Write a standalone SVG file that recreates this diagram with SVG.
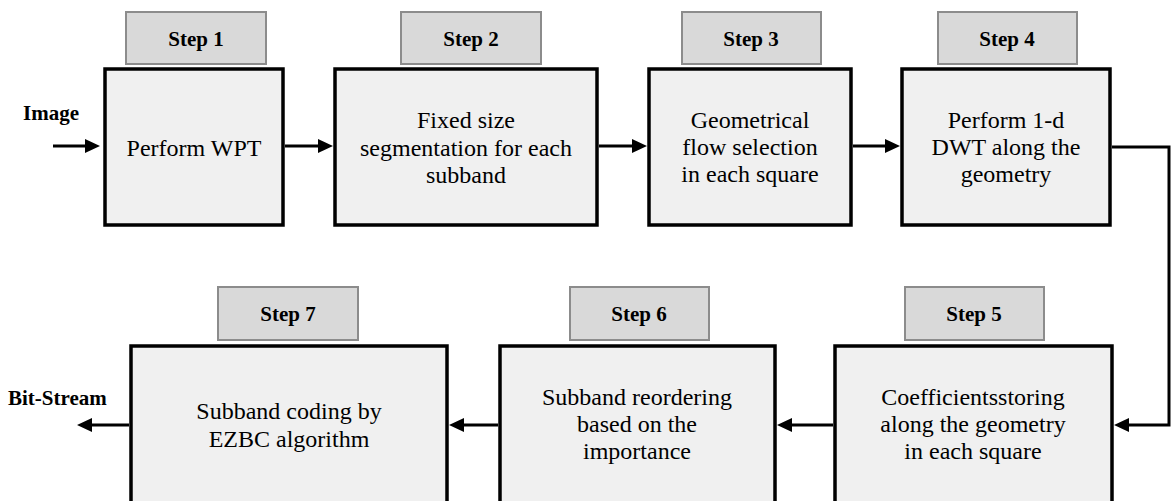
<svg xmlns="http://www.w3.org/2000/svg" width="1171" height="501" viewBox="0 0 1171 501">
<style>
.box{fill:#f0f0f0;stroke:#000;stroke-width:3.5}
.tab{fill:#d9d9d9;stroke:#8c8c8c;stroke-width:2}
.t{font-family:"Liberation Serif","Times New Roman",serif;font-size:24px;fill:#000;text-anchor:middle}
.s{font-family:"Liberation Serif","Times New Roman",serif;font-size:21px;font-weight:bold;fill:#000;text-anchor:middle}
.l{font-family:"Liberation Serif","Times New Roman",serif;font-size:21px;font-weight:bold;fill:#000}
.c{fill:none;stroke:#000;stroke-width:3}
</style>
<defs>
<marker id="ah" markerWidth="15" markerHeight="14" refX="1" refY="7" orient="auto" markerUnits="userSpaceOnUse">
<path d="M0,0 L15,7 L0,14 Z" fill="#000"/>
</marker>
</defs>
<rect width="1171" height="501" fill="#fff"/>
<g id="connectors">
<path class="c" d="M53,146 H86" marker-end="url(#ah)"/>
<path class="c" d="M285,146 H319" marker-end="url(#ah)"/>
<path class="c" d="M599,146 H633" marker-end="url(#ah)"/>
<path class="c" d="M853,146 H886" marker-end="url(#ah)"/>
<path class="c" d="M1112,147 H1169 V425 H1128" marker-end="url(#ah)"/>
<path class="c" d="M833,425 H791" marker-end="url(#ah)"/>
<path class="c" d="M498,425 H463" marker-end="url(#ah)"/>
<path class="c" d="M129,425 H91" marker-end="url(#ah)"/>
</g>
<g id="label-image"><text class="l" x="23" y="120">Image</text></g>
<g id="label-bitstream"><text class="l" x="8" y="405">Bit-Stream</text></g>
<g id="step1">
<rect class="tab" x="126" y="12" width="140" height="52"/>
<text class="s" x="196" y="46">Step 1</text>
<rect class="box" x="105" y="69" width="178" height="156"/>
<text class="t" x="194" y="156">Perform WPT</text>
</g>
<g id="step2">
<rect class="tab" x="401" y="12" width="140" height="52"/>
<text class="s" x="471" y="46">Step 2</text>
<rect class="box" x="335" y="69" width="262" height="156"/>
<text class="t" x="466" y="128">Fixed size</text>
<text class="t" x="466" y="156">segmentation for each</text>
<text class="t" x="466" y="183">subband</text>
</g>
<g id="step3">
<rect class="tab" x="682" y="12" width="139" height="52"/>
<text class="s" x="751" y="46">Step 3</text>
<rect class="box" x="649" y="69" width="202" height="156"/>
<text class="t" x="750" y="128">Geometrical</text>
<text class="t" x="750" y="155">flow selection</text>
<text class="t" x="750" y="182">in each square</text>
</g>
<g id="step4">
<rect class="tab" x="938" y="12" width="139" height="52"/>
<text class="s" x="1007" y="46">Step 4</text>
<rect class="box" x="902" y="69" width="208" height="156"/>
<text class="t" x="1006" y="128">Perform 1-d</text>
<text class="t" x="1006" y="155">DWT along the</text>
<text class="t" x="1006" y="182">geometry</text>
</g>
<g id="step5">
<rect class="tab" x="905" y="287" width="139" height="53"/>
<text class="s" x="974" y="321">Step 5</text>
<rect class="box" x="835" y="346" width="277" height="200"/>
<text class="t" x="973" y="405">Coefficientsstoring</text>
<text class="t" x="973" y="432">along the geometry</text>
<text class="t" x="973" y="459">in each square</text>
</g>
<g id="step6">
<rect class="tab" x="570" y="287" width="139" height="53"/>
<text class="s" x="639" y="321">Step 6</text>
<rect class="box" x="500" y="346" width="275" height="200"/>
<text class="t" x="637" y="405">Subband reordering</text>
<text class="t" x="637" y="432">based on the</text>
<text class="t" x="637" y="459">importance</text>
</g>
<g id="step7">
<rect class="tab" x="218" y="287" width="140" height="53"/>
<text class="s" x="288" y="321">Step 7</text>
<rect class="box" x="131" y="346" width="316" height="200"/>
<text class="t" x="289" y="419">Subband coding by</text>
<text class="t" x="289" y="447">EZBC algorithm</text>
</g>
</svg>
